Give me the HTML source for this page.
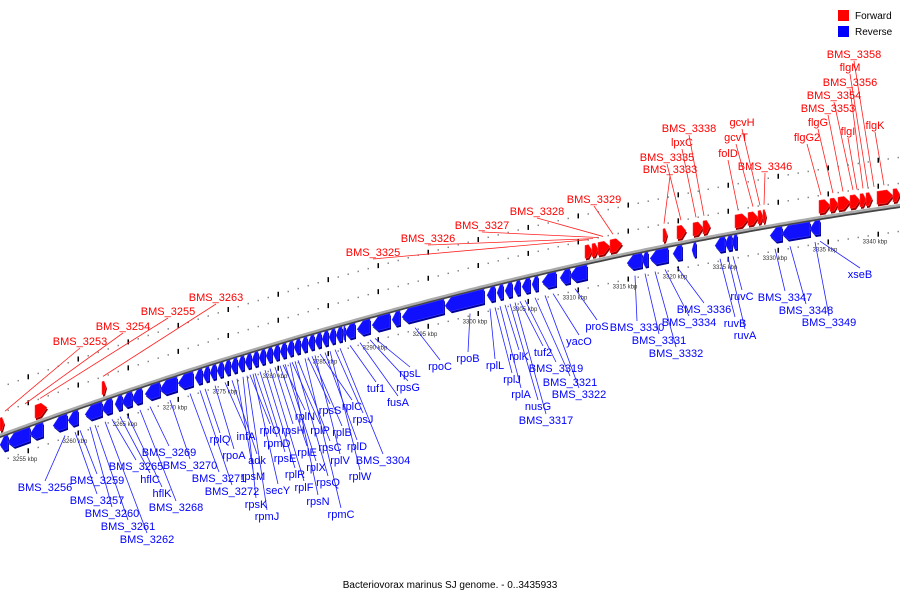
<!DOCTYPE html>
<html><head><meta charset="utf-8"><style>
html,body{margin:0;padding:0;background:#fff;}
svg{display:block;font-family:"Liberation Sans",sans-serif;}
</style></head><body>
<svg id="chart" width="900" height="600" viewBox="0 0 900 600" xmlns="http://www.w3.org/2000/svg">
<g id="tracks"></g>
<g id="leaders"></g>
<g id="genes"></g>
<g id="labels"></g>
<g>
<rect x="838" y="10" width="11" height="11" fill="#ff0000"/>
<text x="855" y="19" font-size="10" fill="#000">Forward</text>
<rect x="838" y="26" width="11" height="11" fill="#0000ff"/>
<text x="855" y="35" font-size="10" fill="#000">Reverse</text>
</g>
<text x="450" y="588" font-size="10" text-anchor="middle" fill="#000">Bacteriovorax marinus SJ genome. - 0..3435933</text>
</svg>
<script>
const tickKbp = [3255,3260,3265,3270,3275,3280,3285,3290,3295,3300,3305,3310,3315,3320,3325,3330,3335,3340];
const revStart = [3252.5,3253.3,3255.5,3257.8,3259.3,3261,3262.7,3264,3264.7,3265.7,3267,3268.5,3270.3,3272,
3272.8,3273.5,3274.2,3274.9,3275.6,3276.3,3277.0,3277.7,3278.4,3279.1,3279.8,3280.5,3281.2,3281.9,3282.6,3283.3,3284.0,3284.7,3285.4,3286.1,3286.8,
3287,3288.2,3289.7,3291.7,3292.7,3297,3301.2,3302.2,3303,3303.9,3304.7,3305.7,3306.7,3308.5,3309.5,3315.2,3316.7,3317.5,3319.8,3321.7,3324,3325,3325.7,3329.5,3330.7,3333.5];
const revEnd = [3253.3,3255.5,3256.8,3259.2,3260.3,3262.7,3263.7,3264.7,3265.7,3266.7,3268.5,3270.2,3271.8,3272.7,
3273.4,3274.1,3274.8,3275.5,3276.2,3276.9,3277.6,3278.3,3279.0,3279.7,3280.4,3281.1,3281.8,3282.5,3283.2,3283.9,3284.6,3285.3,3286.0,3286.7,3287.0,
3288,3289.5,3291.5,3292.5,3296.9,3300.9,3302,3302.8,3303.7,3304.5,3305.5,3306.3,3308.1,3309.5,3311.2,3316.7,3317.3,3319.3,3320.7,3322.1,3325,3325.7,3326.2,3330.7,3333.5,3334.5];
const fwdStart = [3252.5,3256,3262.7,3311,3311.7,3312.3,3313.5,3318.8,3320.2,3321.8,3322.8,3326,3327.3,3328.3,3328.8,3334.4,3335.5,3336.3,3337.5,3338.5,3339.1,3340.2,3341.8];
const fwdEnd = [3252.9,3257.2,3263.1,3311.7,3312.3,3313.5,3314.7,3319.2,3321.1,3322.8,3323.5,3327.3,3328.3,3328.8,3329.1,3335.5,3336.3,3337.5,3338.5,3339.1,3339.7,3341.8,3342.5];
const revLabels = ["BMS_3256","BMS_3257","BMS_3259","BMS_3260","BMS_3261","BMS_3262","BMS_3265","hflC","hflK","BMS_3268","BMS_3269","BMS_3270","BMS_3271","BMS_3272","rplQ","rpoA","infA","adk","rpsM","rpsK","rpmJ","rplO","rpmD","rpsE","secY","rplR","rplF","rpsH","rplE","rplX","rpsN","rplN","rplP","rpsC","rpsQ","rpmC","rpsS","rplB","rplV","rplC","rplD","rplW","rpsJ","BMS_3304","tuf1","fusA","rpsG","rpsL","rpoC","rpoB","rplL","rplJ","rplA","rplK","nusG","BMS_3317","tuf2","BMS_3319","BMS_3321","BMS_3322","yacO","proS","BMS_3330","BMS_3331","BMS_3332","BMS_3334","BMS_3336","ruvB","ruvA","ruvC","BMS_3347","BMS_3348","BMS_3349","xseB"];
const revLX = [45,97,97,112,128,147,136,150,162,176,169,190,219,232,220,234,246,257,253,256,267,270,277,285,278,295,304,293,307,316,318,305,320,330,328,341,330,342,340,352,357,360,363,383,376,398,408,410,440,468,495,512,521,519,538,546,543,556,570,579,579,597,637,659,676,689,704,735,745,742,785,806,829,860];
const revLY = [491,504,484,517,530,543,470,483,497,511,456,469,482,495,443,459,440,464,480,508,520,434,447,462,494,478,491,434,456,471,505,420,434,451,486,518,414,436,464,410,450,480,423,464,392,406,391,377,370,362,369,383,398,360,410,424,356,372,386,398,345,330,331,344,357,326,313,327,339,300,301,314,326,278];
const revLG = [3259,3260,3260.5,3261.5,3262,3263,3263.7,3264.5,3265.2,3266.5,3267.5,3269.5,3271.5,3272.5,3273,3274,3275,3275.7,3276.2,3276.8,3277.2,3277.5,3278,3278.5,3277.8,3279,3279.5,3280,3280.5,3281,3281.5,3280.8,3281.7,3282.3,3282,3283,3283.3,3283.7,3284,3284.5,3285,3285.5,3286,3286.5,3287.5,3288.5,3289.5,3290,3294,3299.5,3301.5,3302,3302.5,3303,3303.5,3304,3304.5,3305,3306,3307,3307.8,3310,3316,3317,3318,3319,3320.2,3324.5,3325.3,3325.8,3330,3331.5,3334,3334.5];
const fwdLabels = ["BMS_3253","BMS_3254","BMS_3255","BMS_3263","BMS_3325","BMS_3326","BMS_3327","BMS_3328","BMS_3329","BMS_3333","BMS_3335","lpxC","BMS_3338","folD","gcvT","gcvH","BMS_3346","flgG2","flgG","BMS_3353","BMS_3354","BMS_3356","flgM","BMS_3358","flgI","flgK"];
const fwdLX = [80,123,168,216,373,428,482,537,594,670,667,682,689,728,736,742,765,807,818,828,834,850,850,854,848,875];
const fwdLY = [345,330,315,301,256,242,229,215,203,173,161,146,132,157,141,126,170,141,126,112,99,86,71,58,135,129];
const fwdLG = [3253,3255,3256.5,3262.8,3311.3,3311.8,3312.3,3312.8,3313.8,3318.9,3320.6,3322.1,3322.9,3326.3,3327.8,3328.5,3328.9,3334.6,3335.8,3336.8,3337.8,3338.8,3339.3,3339.9,3338.2,3340.9];

const NS='http://www.w3.org/2000/svg';
function xs(k){return (k-3252.5)*10;}
function yb(x){return 435-0.3685*x+1.255e-4*x*x;}
function mk(tag,attrs,parent){const e=document.createElementNS(NS,tag);for(const a in attrs)e.setAttribute(a,attrs[a]);parent.appendChild(e);return e;}
const gT=document.getElementById('tracks'),gG=document.getElementById('genes'),gL=document.getElementById('labels'),gLd=document.getElementById('leaders');
function curve(off,x0,x1){let d='';for(let x=x0;x<=x1;x+=5){d+=(d?'L':'M')+x+','+(yb(x)+off).toFixed(1);}return d;}
let bb=mk('path',{d:curve(2,-5,905),stroke:'#444',fill:'none','stroke-width':2},gT);


let bb2=mk('path',{d:curve(0,-5,905),stroke:'#aaa',fill:'none','stroke-width':2.5},gT);


[-22,-48,26].forEach(function(off){
  for(let k=3252;k<=3343;k+=1){
    const x=xs(k)+3;const isMaj=(k%5===0);
    const y=yb(x)+off;
    const d=mk('rect',{x:x-0.5,y:isMaj?y-2.5:y-0.5,width:isMaj?1.5:1.5,height:isMaj?5:1.5,fill:isMaj?'#000':'#888'},gT);
    
    
  }
});
tickKbp.forEach(function(k){
  const x=xs(k);
  const t=mk('text',{x:x,y:yb(x)+35,'font-size':6,'text-anchor':'middle',fill:'#333'},gT);
  t.textContent=k+' kbp';
  
  
});
function gene(s,e,fwd){
  const x1=xs(s),x2=xs(e);const len=x2-x1;const head=Math.min(6,len*0.5);
  const top=fwd?-17:3,h=fwd?13:14;
  function pt(x,o){return x.toFixed(1)+','+(yb(x)+o).toFixed(1);}
  let p;
  if(fwd){p=[pt(x1,top),pt(x2-head,top),pt(x2,top+h/2),pt(x2-head,top+h),pt(x1,top+h)];}
  else{p=[pt(x1+head,top),pt(x2,top),pt(x2,top+h),pt(x1+head,top+h),pt(x1,top+h/2)];}
  const sh=mk('polygon',{points:p.join(' '),fill:fwd?'#990000':'#000099',transform:'translate(1,2)'},gG);
  
  
  const g=mk('polygon',{points:p.join(' '),fill:fwd?'#ff0000':'#1010ff',stroke:fwd?'#ff4040':'#4040ff','stroke-width':0.5},gG);
  
  
}
for(let i=0;i<revStart.length;i++)gene(revStart[i],revEnd[i],false);
for(let i=0;i<fwdStart.length;i++)gene(fwdStart[i],fwdEnd[i],true);
function labels(txt,lx,ly,lg,fwd){
  for(let i=0;i<txt.length;i++){
    const gx=xs(lg[i]);
    const above=fwd||ly[i]<yb(lx[i]);
    const gy=yb(gx)+(above?-22:24);
    const sy=above?ly[i]+3:ly[i]-10;
    const l=mk('line',{x1:lx[i],y1:sy,x2:gx,y2:gy,stroke:fwd?'#ff2020':'#2020ff','stroke-width':0.8},gLd);
    
    
    const t=mk('text',{x:lx[i],y:ly[i],'font-size':11,'text-anchor':'middle',fill:fwd?'#ff0000':'#0000ff'},gL);
    t.textContent=txt[i];
    
    
  }
}
labels(revLabels,revLX,revLY,revLG,false);
labels(fwdLabels,fwdLX,fwdLY,fwdLG,true);
</script>
</body></html>
